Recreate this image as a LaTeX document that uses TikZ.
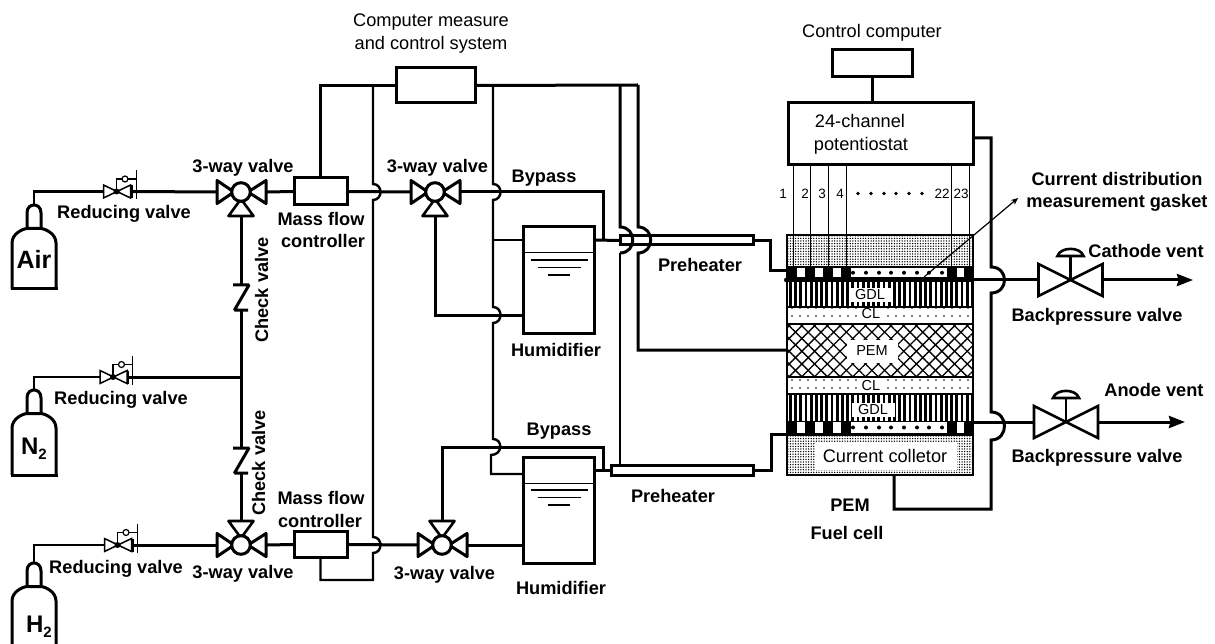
\documentclass[tikz,border=0pt]{standalone}
\usepackage{fontspec}
\setmainfont{Liberation Sans}
\usetikzlibrary{arrows.meta,patterns.meta}
\tikzset{
  pipe/.style={line width=3pt,line join=miter},
  wire/.style={line width=2.4pt},
  boxn/.style={draw,line width=3pt,fill=white,inner sep=0pt,outer sep=0pt},
  lb/.style={font=\fontsize{18.2}{20}\selectfont\bfseries,anchor=base,inner sep=0pt},
  lr/.style={font=\fontsize{18.2}{20}\selectfont,anchor=base,inner sep=0pt},
  ls/.style={font=\fontsize{14.5}{16}\selectfont,anchor=base,inner sep=0pt},
  ln/.style={font=\fontsize{13.5}{15}\selectfont,anchor=base,inner sep=0pt},
  whitepatch/.style={fill=white,draw=none},
  threeway/.pic={
    \draw[line width=3pt,line join=round,fill=white] (-7,0) -- (-24,-11.5) -- (-24,11.5) -- cycle;
    \draw[line width=3pt,line join=round,fill=white] (7,0) -- (25,-11.5) -- (25,11.5) -- cycle;
    \draw[line width=2.6pt,line join=round,fill=white] (0,7) -- (-12.5,24) -- (12.5,24) -- cycle;
    \draw[line width=3pt,fill=white] (0,0) circle (9.3);
    \coordinate (-w) at (-24,0); \coordinate (-e) at (25,0); \coordinate (-s) at (0,24);
  },
  redvalve/.pic={
    \draw[line width=1.5pt,fill=white] (-13,-6.5) -- (-13,6.5) -- (14,-6.5) -- (14,6.5) -- cycle;
    \draw[line width=1.4pt] (0,0) -- (0,-12.5) -- (5.5,-12.5) (11.5,-12.5) -- (20,-12.5);
    \draw[line width=1.2pt] (8.5,-12.5) circle (3);
    \draw[line width=1.2pt] (19.7,-21.5) -- (19.7,7.5);
    \fill (0,0) circle (3);
    \draw[line width=2.2pt] (15,-6.5) -- (15,6.5);
    \coordinate (-w) at (-13,0); \coordinate (-e) at (15,0);
  },
  cylinder/.pic={
    \draw[line width=3pt,line join=round] (-22,#1) -- (-22,38) .. controls (-22,29) and (-12,24) .. (-7,23.5) -- (7,23.5) .. controls (12,24) and (22,29) .. (22,38) -- (22,#1);
    \draw[line width=3pt] (-7,23.5) -- (-7,8) .. controls (-7,2) and (-3,0) .. (0,0) .. controls (3,0) and (7,2) .. (7,8) -- (7,23.5);
    \coordinate (-n) at (0,0); \coordinate (-bl) at (-23.5,#1); \coordinate (-br) at (23.5,#1);
  },
  bpvalve/.pic={
    \draw[line width=2.6pt,fill=white,line join=miter] (-32,-16) -- (-32,16) -- (32,-16) -- (32,16) -- cycle;
    \draw[line width=2.4pt] (0,0) -- (0,-24);
    \draw[line width=2.6pt,fill=white] (-13,-24) .. controls (-10,-33.5) and (10,-33.5) .. (13,-24) -- cycle;
    \coordinate (-w) at (-32,0); \coordinate (-e) at (32,0);
  },
  humid/.pic={
    \draw[line width=1pt] (-35.5,0) -- (35.5,0);
    \draw[line width=1.1pt] (-28,7) -- (29,7) (-21,14.5) -- (22,14.5) (-11,22) -- (11,22);
  },
}
\begin{document}
\begin{tikzpicture}[x=1pt,y=-1pt]
\useasboundingbox (0,0) rectangle (1215,644);

% ---- main boxes
\node[boxn,minimum width=79pt,minimum height=35pt] (cms) at (435.5,85.5) {};
\node[boxn,minimum width=80pt,minimum height=27pt] (cc) at (872,63.5) {};
\node[boxn,minimum width=185pt,minimum height=62pt] (pot) at (880.5,134) {};
\node[boxn,minimum width=53pt,minimum height=27pt] (mfcA) at (320.5,191.5) {};
\node[boxn,minimum width=53pt,minimum height=26pt] (mfcB) at (320.5,544.5) {};
\node[boxn,minimum width=71pt,minimum height=106pt] (humA) at (558.5,280) {};
\node[boxn,minimum width=71pt,minimum height=106pt] (humB) at (558.5,510) {};
\node[boxn,minimum width=133pt,minimum height=9pt] (preA) at (686.5,240.5) {};
\node[boxn,minimum width=142pt,minimum height=10pt] (preB) at (682,470) {};
\pic at (558.5,253) {humid};
\pic at (558.5,483) {humid};

% ---- cylinders and valves
\pic (air) at (34,205) {cylinder=84};
\pic (ntwo) at (34,390) {cylinder=85};
\pic (htwo) at (34,563) {cylinder=81};
\draw[line width=3pt] (air-bl) -- (air-br);
\draw[line width=3pt] (ntwo-bl) -- (ntwo-br);
\pic (rA) at (116.5,191.5) {redvalve};
\pic (rN) at (113,377) {redvalve};
\pic (rH) at (117.5,545) {redvalve};
\pic (tA) at (241,192) {threeway};
\pic[yscale=-1] (tB) at (241,545) {threeway};
\pic (tC) at (435,192) {threeway};
\pic[yscale=-1] (tD) at (442,545) {threeway};
\pic (bC) at (1070.5,280) {bpvalve};
\pic (bA) at (1066,422) {bpvalve};

% ---- gas feeds
\draw[line width=2.4pt] (air-n) |- (rA-w);
\draw[line width=2.4pt] (ntwo-n) |- (rN-w);
\draw[line width=2.4pt] (htwo-n) |- (rH-w);
\draw[pipe] (rA-e) -- (tA-w);
\draw[pipe] (rH-e) -- (tB-w);
\coordinate (nj) at (241,377);
\draw[pipe] (rN-e) -- (nj);
\coordinate (ca) at (241,285); \coordinate (cb) at (241,310);
\coordinate (cc1) at (241,447); \coordinate (cd) at (241,473);
\draw[pipe] (tA-s) -- (ca) (cb) -- (cc1) (cd) -- (tB-s);
\draw[pipe,line join=bevel] (233,285) -- (249,285) -- (234.5,310) -- (248,310);
\draw[pipe,line join=bevel] (233,448) -- (249,448) -- (234.5,473) -- (248,473);

\draw[pipe] (tA-e) -- (mfcA.west);
\draw[pipe] (tB-e) -- (mfcB.west);
\draw[pipe] (mfcA.east) -- (tC-w);
\draw[pipe] (mfcB.east) -- (tD-w);
\draw[pipe] (tC-e) -- (603,192) -- (603,240);
\draw[pipe] (humA.east |- 0,240) -- (preA.west);
\draw[pipe] (tC-s) |- (humA.west |- 0,315);
\draw[pipe] (tD-e) -- (humB.west |- 0,545);
\draw[pipe] (tD-s) |- (603,447) -- (603,470);
\draw[pipe] (humB.east |- 0,470) -- (preB.west);

% ---- control bus
\coordinate (busA) at (373,85); \coordinate (busB) at (493,85);
\coordinate (busC) at (620,85); \coordinate (busD) at (638,85);
\draw[pipe] (mfcA.north) |- (cms.west);
\draw[pipe] (cms.east) -- (busD);
\draw[wire] (busA) -- (373,184) .. controls (383,184) and (383,200) .. (373,200) -- (373,537) .. controls (383,537) and (383,553) .. (373,553) -- (373,580) -- (320.5,580) -- (mfcB.south);
\draw[wire] (busB) -- (493,184) .. controls (503,184) and (503,200) .. (493,200) -- (493,307) .. controls (503,307) and (503,323) .. (493,323) -- (493,439) .. controls (503,439) and (503,455) .. (491,455) -- (491,474) -- (humB.west |- 0,474);
\draw[wire] (493,240) -- (humA.west |- 0,240);
\draw[pipe] (busC) -- (620,227) .. controls (637,227) and (637,253) .. (620,253);
\draw[wire] (620,253) -- (620,465);
\draw[pipe] (busD) -- (638,227) .. controls (655,227) and (655,253) .. (638,253) -- (638,350) -- (787,350);

% ---- fuel cell stack layers
\fill[pattern={Dots[distance=2.6pt,radius=0.75pt]}] (787,235) rectangle (973,266);
\fill[pattern={Dots[distance=2.6pt,radius=0.75pt]}] (787,436) rectangle (973,475);
\node[fill=white,inner sep=0pt,minimum width=142pt,minimum height=28pt] (collbg) at (886,456) {};
\foreach \xx in {789,794.2,...,972} {\fill (\xx,281) rectangle (\xx+2.8,307); \fill (\xx,394) rectangle (\xx+2.8,421);}
\fill[pattern={Dots[distance=8pt,radius=0.8pt]}] (787,307) rectangle (973,324);
\fill[pattern={Dots[distance=8pt,radius=0.8pt]}] (787,377) rectangle (973,394);
\fill[pattern={Lines[angle=45,distance=9pt,line width=1.3pt]}] (787,324) rectangle (973,377);
\fill[pattern={Lines[angle=-45,distance=9pt,line width=1.3pt]}] (787,324) rectangle (973,377);
\draw[line width=1.2pt] (787,324) -- (973,324) (787,377) -- (973,377) (787,307) -- (973,307) (787,394) -- (973,394);
\node[whitepatch,inner sep=0pt,minimum width=41pt,minimum height=14pt] (gdlbgA) at (870.5,295) {};
\node[whitepatch,inner sep=0pt,minimum width=27pt,minimum height=15pt] (clbgA) at (871,315.5) {};
\node[whitepatch,inner sep=0pt,minimum width=51pt,minimum height=23pt] (pembg) at (872.5,351) {};
\node[whitepatch,inner sep=0pt,minimum width=27pt,minimum height=15pt] (clbgB) at (871,385.5) {};
\node[whitepatch,inner sep=0pt,minimum width=43pt,minimum height=14pt] (gdlbgB) at (873,410) {};
% gaskets
\fill (787,266) rectangle (973,282);
\fill (787,421) rectangle (973,436);
\fill (786.5,280) circle (2.5);
\foreach \yy/\hh in {268/9.5,422/11} {
  \foreach \xa/\xb in {797/805,815/823,833/841,851/947,957/964} {\fill[white] (\xa,\yy) rectangle (\xb,\yy+\hh);}
  \foreach \xd in {853,866,879,891,904,917,929,942} {\fill (\xd,\yy+\hh/2) circle (2);}
}
\draw[line width=2.6pt] (787,235) rectangle (973,475);
% channels
\foreach \xc in {793,810,828,846,951,969} {\draw[line width=1pt] (\xc,165) -- (\xc,266);}

% ---- connections to stack
\draw[pipe] (preA.east) -- (770,240.5) -- (770,271) -- (787,271);
\draw[pipe] (preB.east) -- (771,470) -- (771,434) -- (787,434);
\draw[pipe] (cc.south) -- (pot.north -| cc.south);
\draw[pipe] (pot.east |- 0,138) -- (991,138) -- (991,267) .. controls (1009,267) and (1009,293) .. (991,293) -- (991,412) .. controls (1009,412) and (1009,440) .. (991,440) -- (991,509) -- (894,509) -- (894,475);
\coordinate (cathS) at (973,280); \coordinate (anS) at (973,422);
\coordinate (cathT) at (1193,280); \coordinate (anT) at (1185,422);
\draw[pipe] (cathS) -- (bC-w);
\draw[pipe] (anS) -- (bA-w);
\draw[pipe,-{Stealth[length=16pt,width=12pt,inset=1.5pt]}] (bC-e) -- (cathT);
\draw[pipe,-{Stealth[length=16pt,width=12pt,inset=1.5pt]}] (bA-e) -- (anT);
\coordinate (gskS) at (924,277); \coordinate (gskT) at (1018,198);
\draw[line width=1.2pt,-{Stealth[length=7pt,width=6pt]}] (gskS) -- (gskT);

% ---- labels
\node[lr] (tCMa) at (431,27) {Computer measure};
\node[lr] (tCMb) at (431,50) {and control system};
\node[lr] (tCC) at (872,38) {Control computer};
\node[lr] (tPa) at (860,128) {24-channel};
\node[lr] (tPb) at (861,151) {potentiostat};
\node[ln] (n1) at (783,199) {1};
\node[ln] (n2) at (805,199) {2};
\node[ln] (n3) at (822,199) {3};
\node[ln] (n4) at (840,199) {4};
\node[ln] (n22) at (942,199) {22};
\node[ln] (n23) at (961,199) {23};
\foreach \xd in {858,871,884,896,909,922} {\fill (\xd,193.5) circle (1.8);}
\node[lb] (tCDa) at (1117,186) {Current distribution};
\node[lb] (tCDb) at (1117,208) {measurement gasket};
\node[lb] (tCV) at (1146,258) {Cathode vent};
\node[lb] (tBPa) at (1097,321) {Backpressure valve};
\node[lb] (tAV) at (1154,396) {Anode vent};
\node[lb] (tBPb) at (1097,462) {Backpressure valve};
\node[lb] (tPEM) at (850,511) {PEM};
\node[lb] (tFC) at (847,539) {Fuel cell};
\node[lb] (t3a) at (243,173) {3-way valve};
\node[lb] (t3b) at (437.5,173) {3-way valve};
\node[lb] (t3c) at (243,578) {3-way valve};
\node[lb] (t3d) at (444.5,579) {3-way valve};
\node[lb] (tRa) at (124,219) {Reducing valve};
\node[lb] (tRb) at (121,404) {Reducing valve};
\node[lb] (tRc) at (116,573) {Reducing valve};
\node[lb] (tMa) at (321,226) {Mass flow};
\node[lb] (tMb) at (323,248) {controller};
\node[lb] (tMc) at (321,504) {Mass flow};
\node[lb] (tMd) at (320,527) {controller};
\node[lb,rotate=90] (tCa) at (268,290) {Check valve};
\node[lb,rotate=90] (tCb) at (265,463) {Check valve};
\node[lb] (tBa) at (544,183) {Bypass};
\node[lb] (tBb) at (559,435) {Bypass};
\node[lb] (tHa) at (556,356) {Humidifier};
\node[lb] (tHb) at (561,594) {Humidifier};
\node[lb] (tPHa) at (700,272) {Preheater};
\node[lb] (tPHb) at (673,502) {Preheater};
\node[ls] (tGa) at (870,300) {GDL};
\node[ls] (tCLa) at (871,319) {CL};
\node[ls] (tPM) at (872,355) {PEM};
\node[ls] (tCLb) at (871,390) {CL};
\node[ls] (tGb) at (873,414) {GDL};
\node[lr] (tCol) at (885,462) {Current colletor};
\node[font=\fontsize{25}{27}\selectfont\bfseries,anchor=base,inner sep=0pt] (tAir) at (34,269) {Air};
\node[font=\fontsize{24}{26}\selectfont\bfseries,anchor=base,inner sep=0pt] (tN) at (34,454) {N\raisebox{-5pt}{\fontsize{15}{16}\selectfont 2}};
\node[font=\fontsize{24}{26}\selectfont\bfseries,anchor=base,inner sep=0pt] (tH) at (39,632) {H\raisebox{-5pt}{\fontsize{15}{16}\selectfont 2}};
\end{tikzpicture}
\end{document}
